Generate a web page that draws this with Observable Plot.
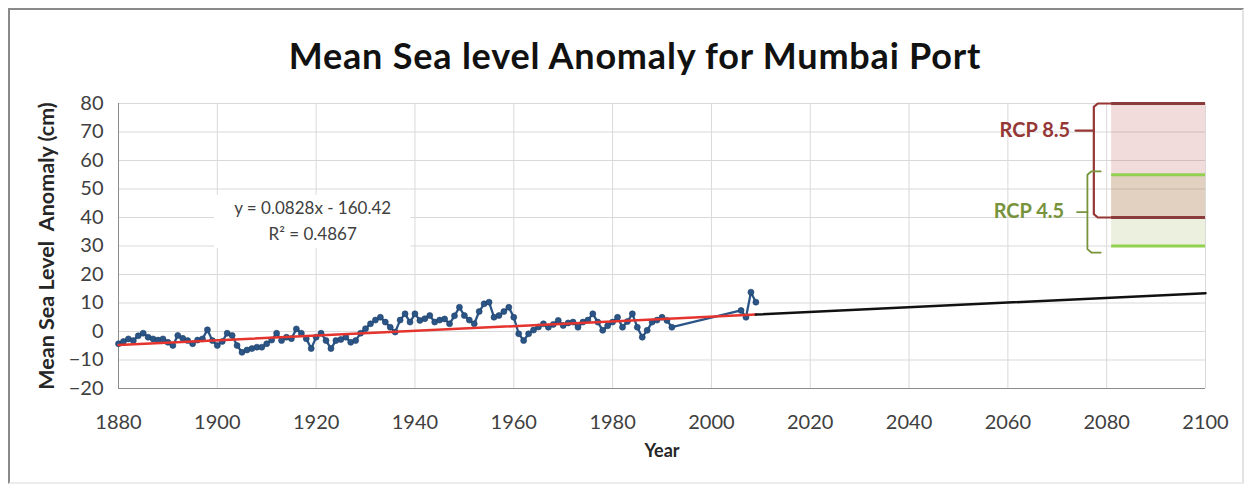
<!DOCTYPE html>
<html><head><meta charset="utf-8">
<script src="https://cdn.jsdelivr.net/npm/d3@7"></script>
<script src="https://cdn.jsdelivr.net/npm/@observablehq/plot@0.6"></script>
<style>
body{margin:0;background:#fff;font-family:Lato,"Open Sans",sans-serif;}
#wrap{position:relative;width:1250px;height:485px;overflow:hidden;background:#fff;}
#frame{position:absolute;left:8px;top:8px;width:1236px;height:476px;border:2px solid #8a8a8a;box-sizing:border-box;border-right-color:#e3e3e3;border-bottom-color:#ececec;}
#chart{position:absolute;left:0;top:0;}
#title{position:absolute;left:10px;width:1250px;top:33px;text-align:center;font-weight:bold;font-size:36px;letter-spacing:0.8px;line-height:44px;color:#111;z-index:2;}
</style></head>
<body>
<div id="wrap">
  <div id="frame"></div>
  <div id="chart"></div>
  <div id="title">Mean Sea level Anomaly for Mumbai Port</div>
</div>
<script>
// Observed annual mean sea level anomaly (cm)
const years = [
  1880,1881,1882,1883,1884,1885,1886,1887,1888,1889,
  1890,1891,1892,1893,1894,1895,1896,1897,1898,1899,
  1900,1901,1902,1903,1904,1905,1906,1907,1908,1909,
  1910,1911,1912,1913,1914,1915,1916,1917,1918,1919,
  1920,1921,1922,1923,1924,1925,1926,1927,1928,1929,
  1930,1931,1932,1933,1934,1935,1936,1937,1938,1939,
  1940,1941,1942,1943,1944,1945,1946,1947,1948,1949,
  1950,1951,1952,1953,1954,1955,1956,1957,1958,1959,
  1960,1961,1962,1963,1964,1965,1966,1967,1968,1969,
  1970,1971,1972,1973,1974,1975,1976,1977,1978,1979,
  1980,1981,1982,1983,1984,1985,1986,1987,1988,1989,
  1990,1991,1992,2006,2007,2008,2009
];
const anomaly = [
  -4.3,-3.5,-2.6,-3.2,-1.5,-0.6,-2.0,-2.6,-3.0,-2.6,
  -3.8,-4.9,-1.4,-2.4,-3.2,-4.3,-3.0,-2.6,0.6,-3.2,
  -4.9,-3.5,-0.6,-1.4,-4.9,-7.3,-6.5,-6.0,-5.5,-5.5,
  -4.3,-3.0,-0.6,-3.2,-2.0,-2.5,0.9,-0.6,-2.5,-6.0,
  -2.0,-0.6,-3.2,-6.0,-3.2,-2.8,-2.0,-3.8,-3.2,-0.6,
  1.0,2.7,4.0,5.0,3.3,1.5,-0.2,4.0,6.2,3.3,
  6.2,3.9,4.5,5.6,3.3,4.0,4.4,2.7,5.5,8.5,
  5.6,4.0,2.7,7.0,9.7,10.3,5.0,5.6,7.0,8.5,
  5.0,-0.8,-3.2,-0.8,0.5,1.6,2.7,1.5,2.5,3.9,
  2.1,3.0,3.3,1.5,3.3,4.0,6.2,3.3,0.4,2.0,
  3.3,5.0,1.5,3.5,6.2,1.5,-2.0,0.4,3.3,4.0,
  5.0,3.9,1.5,7.4,5.0,13.8,10.3
];
// Linear trend shown on the chart: y = 0.0828x - 160.42
const trendSlope = 0.0828;
const trendIntercept = -160.42;
const fitYears = [1880, 2009];
const projYears = [2009, 2100];
// RCP projection ranges (cm) for 2081-2100
const rcpNames = ["RCP 4.5", "RCP 8.5"];
const rcpLow = [30, 40];
const rcpHigh = [55, 80];
const rcpPeriod = [2081, 2100];
// axis ticks
const xTicks = [1880,1900,1920,1940,1960,1980,2000,2020,2040,2060,2080,2100];
const yTicks = [-20,-10,0,10,20,30,40,50,60,70,80];
const eqText = ["y = 0.0828x - 160.42", "R² = 0.4867"];

const series = years.map((y, i) => ({year: y, value: anomaly[i]}));
const trend = x => trendSlope * x + trendIntercept;
const fitLine = fitYears.map(x => ({year: x, value: trend(x)}));
const projLine = projYears.map(x => ({year: x, value: trend(x)}));

const red = "#953735", green = "#77933c", lightGreen = "#92d050";
const regions = rcpNames.map((n, i) => ({name: n, lo: rcpLow[i], hi: rcpHigh[i]}));
const levels = [
  {v: rcpHigh[1], c: "#8a3c3c"}, {v: rcpLow[1], c: "#8a3c3c"},
  {v: rcpHigh[0], c: lightGreen}, {v: rcpLow[0], c: lightGreen}
];
// brace geometry (in data units)
const brace85 = [
  {year: rcpPeriod[0], value: rcpHigh[1]}, {year: 2078.2, value: rcpHigh[1]},
  {year: 2077.4, value: rcpHigh[1] - 1.2}, {year: 2077.4, value: rcpLow[1] + 1.2},
  {year: 2078.2, value: rcpLow[1]}, {year: rcpPeriod[0], value: rcpLow[1]}
];
const brace45 = [
  {year: 2078.8, value: 56.2}, {year: 2076.9, value: 56.2},
  {year: 2076.1, value: 55}, {year: 2076.1, value: 28.9},
  {year: 2076.9, value: 27.7}, {year: 2078.8, value: 27.7}
];
const tick85 = [{year: 2073.7, value: 70.5}, {year: 2077.4, value: 70.5}];
const tick45 = [{year: 2074.0, value: 41.9}, {year: 2076.1, value: 41.9}];

const chart = Plot.plot({
  width: 1250, height: 480,
  marginLeft: 118, marginRight: 45, marginTop: 103, marginBottom: 92,
  x: {domain: [1880, 2100]},
  y: {domain: [-20, 80]},
  style: {fontFamily: "Lato, 'Open Sans', sans-serif", fontSize: "20px", color: "#404040", background: "transparent", overflow: "visible"},
  marks: [
    Plot.gridX(xTicks, {stroke: "#d9d9d9", strokeOpacity: 1}),
    Plot.gridY(yTicks, {stroke: "#d9d9d9", strokeOpacity: 1}),
    Plot.rect(regions, {x1: rcpPeriod[0], x2: rcpPeriod[1], y1: "lo", y2: "hi",
      fill: d => d.name === "RCP 8.5" ? "#c0504d" : "#9bbb59", fillOpacity: 0.2}),
    Plot.ruleY(levels, {y: "v", x1: rcpPeriod[0], x2: rcpPeriod[1], stroke: "c", strokeWidth: 3}),
    Plot.rect([{x1: 1899.4, x2: 1939.2, y1: 29.2, y2: 47.8}], {x1: "x1", x2: "x2", y1: "y1", y2: "y2", fill: "white"}),
    Plot.ruleX([1880], {stroke: "#8c8c8c"}),
    Plot.ruleY([-20], {stroke: "#8c8c8c"}),
    Plot.axisX({ticks: xTicks, tickSize: 0, tickPadding: 26, tickFormat: "d", label: null}),
    Plot.axisY({ticks: yTicks, tickSize: 0, tickPadding: 15, label: null}),
    Plot.line(series, {x: "year", y: "value", stroke: "#2a5586", strokeWidth: 2.3}),
    Plot.dot(series, {x: "year", y: "value", r: 3, fill: "#2a5586", stroke: "#1f3f66", strokeWidth: 0.6}),
    Plot.line(fitLine, {x: "year", y: "value", stroke: "#e5332e", strokeWidth: 2.5}),
    Plot.line(projLine, {x: "year", y: "value", stroke: "#111", strokeWidth: 2.5}),
    Plot.line(brace85, {x: "year", y: "value", stroke: red, strokeWidth: 2.2, strokeLinejoin: "round"}),
    Plot.line(tick85, {x: "year", y: "value", stroke: red, strokeWidth: 2.2}),
    Plot.line(brace45, {x: "year", y: "value", stroke: green, strokeWidth: 1.8, strokeLinejoin: "round"}),
    Plot.line(tick45, {x: "year", y: "value", stroke: green, strokeWidth: 1.8}),
    Plot.text([rcpNames[1]], {x: 2072.6, y: 70.5, text: d => d, textAnchor: "end", fill: red, fontSize: 20, fontWeight: "bold"}),
    Plot.text([rcpNames[0]], {x: 2071.4, y: 41.9, text: d => d, textAnchor: "end", fill: green, fontSize: 20, fontWeight: "bold"}),
    Plot.text([eqText[0]], {x: 1919.3, y: 43.2, text: d => d, fill: "#404040", fontSize: 17}),
    Plot.text([eqText[1]], {x: 1919.3, y: 34.0, text: d => d, fill: "#404040", fontSize: 17}),
    Plot.text(["Year"], {frameAnchor: "bottom", dy: 68, text: d => d, fontWeight: "bold", fontSize: 18, fill: "#262626"}),
    Plot.text(["Mean Sea Level  Anomaly (cm)"], {frameAnchor: "left", textAnchor: "middle", dx: -71, rotate: -90, text: d => d, fontWeight: "bold", fontSize: 21.5, fill: "#262626"})
  ]
});
document.getElementById("chart").appendChild(chart);
</script>
</body></html>
